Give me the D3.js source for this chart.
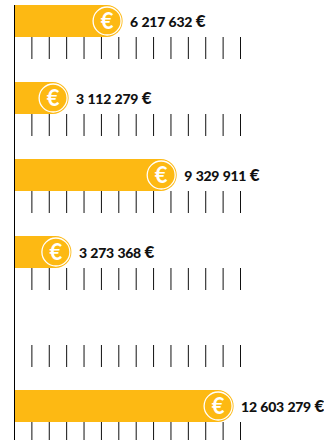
<!DOCTYPE html>
<html>
<head>
<meta charset="utf-8">
<script src="https://cdn.jsdelivr.net/npm/d3@7"></script>
<style>
  html, body { margin: 0; padding: 0; background: #fff; }
  svg { display: block; }
  .label { font-family: Lato, sans-serif; font-weight: 900; font-size: 14px; letter-spacing: -0.3px; word-spacing: 0.6px; fill: #111; }
  .label tspan { font-size: 17px; }
  .euro { font-family: Lato, sans-serif; font-weight: 700; font-size: 22px; fill: #fff; }
</style>
</head>
<body>
<svg id="chart"></svg>
<script>
const rows = ['a', 'b', 'c', 'd', 'e', 'f'];
const values = [6217632, 3112279, 9329911, 3273368, null, 12603279];
const labels = ['6 217 632', '3 112 279', '9 329 911', '3 273 368', '', '12 603 279'];
const tickValues = d3.range(1, 14).map((d) => d * 1000000);

const width = 324,
  height = 440;

const svg = d3.select('#chart').attr('width', width).attr('height', height);

const x = d3.scaleLinear().domain([0, 13000000]).range([14.5, 240.5]);

// one row = bar + tick strip
const y = d3.scaleBand().domain(rows).range([5, 467]);
const barHeight = 32;
const tickLength = 22;

const row = svg
  .selectAll('.row')
  .data(rows)
  .enter()
  .append('g')
  .attr('class', 'row')
  .attr('transform', (d) => `translate(0,${y(d)})`);

row.each(function() {
  const axis = d3
    .axisBottom(x)
    .tickValues(tickValues)
    .tickSize(tickLength)
    .tickFormat('')
    .offset(0);
  const g = d3
    .select(this)
    .append('g')
    .attr('transform', `translate(0,${barHeight})`)
    .call(axis);
  g.select('.domain').remove();
  g.selectAll('line').attr('stroke', '#111').attr('stroke-width', 1);
});

const bars = row.filter((d, i) => values[i] !== null);

// rounded on the right side only
bars
  .append('path')
  .attr('fill', '#fdb913')
  .attr('d', (d) => {
    const v = values[rows.indexOf(d)];
    const r = barHeight / 2;
    const xEnd = x(v);
    return `M${x(0)},0H${xEnd - r}A${r},${r} 0 0 1 ${xEnd - r},${barHeight}H${x(0)}Z`;
  });

bars
  .append('circle')
  .attr('cx', (d) => x(values[rows.indexOf(d)]) - 15.5)
  .attr('cy', barHeight / 2)
  .attr('r', 14)
  .attr('fill', 'none')
  .attr('stroke', '#fff')
  .attr('stroke-width', 1.3);

bars
  .append('text')
  .attr('class', 'euro')
  .attr('x', (d) => x(values[rows.indexOf(d)]) - 15.5)
  .attr('y', barHeight / 2 + 8)
  .attr('text-anchor', 'middle')
  .text('€');

const label = bars
  .append('text')
  .attr('class', 'label')
  .attr('x', (d) => x(values[rows.indexOf(d)]) + 7.5)
  .attr('y', barHeight / 2 + 6)
  .text((d) => labels[rows.indexOf(d)] + ' ');

label.append('tspan').text('€');

// vertical axis line
svg
  .append('g')
  .attr('transform', `translate(${x(0)},0)`)
  .call(d3.axisLeft(d3.scaleLinear().domain([0, 1]).range([5, height])).tickValues([]).tickSize(0).offset(0))
  .select('.domain')
  .attr('stroke', '#000')
  .attr('stroke-width', 1);
</script>
</body>
</html>
